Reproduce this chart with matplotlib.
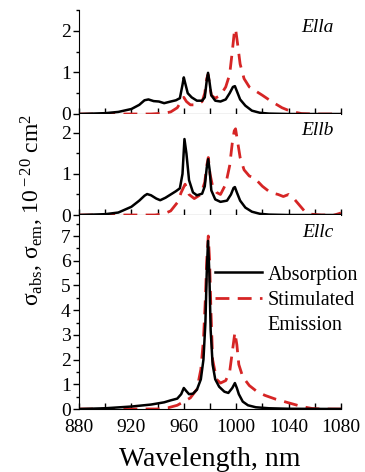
import matplotlib.pyplot as plt
from matplotlib.lines import Line2D
from matplotlib.ticker import MultipleLocator

plt.rcParams['font.family'] = ['Liberation Serif', 'DejaVu Serif']
plt.rcParams['mathtext.fontset'] = 'custom'
plt.rcParams['mathtext.rm'] = 'Liberation Serif'
plt.rcParams['mathtext.it'] = 'Liberation Serif:italic'

# E||a
wl_a_abs = [880, 900, 910, 920, 926, 930, 933, 937, 941, 945, 950, 954, 957, 959, 960, 961, 963, 966,
            970, 974, 976, 977.5, 978.5, 979.5, 981, 984, 988, 992, 995, 997.5, 999, 1000.5, 1003,
            1007, 1012, 1018, 1025, 1040, 1080]
abs_a = [0, 0.02, 0.05, 0.12, 0.22, 0.33, 0.35, 0.31, 0.3, 0.26, 0.3, 0.33, 0.38, 0.7, 0.88, 0.75, 0.5, 0.4,
         0.32, 0.32, 0.4, 0.8, 0.99, 0.8, 0.45, 0.32, 0.3, 0.35, 0.5, 0.65, 0.67, 0.55, 0.35,
         0.2, 0.08, 0.03, 0.01, 0, 0]
wl_a_em = [880, 935, 945, 950, 955, 958, 960, 962, 965, 970, 974, 976, 977.5, 978.5, 979.5, 981, 984,
           988, 992, 995, 997, 998.5, 999.5, 1001, 1003, 1006, 1010, 1015, 1020, 1027, 1035, 1042,
           1050, 1060, 1080]
em_a = [0, 0, 0.02, 0.05, 0.15, 0.3, 0.4, 0.3, 0.22, 0.22, 0.3, 0.5, 0.85, 0.95, 0.75, 0.45, 0.38,
        0.45, 0.65, 0.95, 1.5, 1.95, 2.05, 1.7, 1.2, 0.85, 0.65, 0.55, 0.45, 0.3, 0.15, 0.06,
        0.01, 0, 0]

# E||b
wl_b_abs = [880, 900, 910, 920, 926, 930, 932, 935, 939, 942, 946, 950, 954, 957, 959, 960.5, 962,
            964, 967, 970, 974, 976, 977.5, 978.6, 979.7, 981, 984, 988, 993, 996, 998, 999,
            1000.5, 1003, 1007, 1012, 1018, 1025, 1040, 1080]
abs_b = [0, 0.02, 0.06, 0.2, 0.35, 0.47, 0.51, 0.48, 0.4, 0.36, 0.42, 0.5, 0.58, 0.65, 1.0, 1.85, 1.5,
         0.85, 0.55, 0.48, 0.52, 0.7, 1.15, 1.36, 1.1, 0.6, 0.38, 0.32, 0.35, 0.5, 0.66, 0.68,
         0.55, 0.35, 0.18, 0.08, 0.03, 0.01, 0, 0]
wl_b_em = [880, 938, 945, 950, 955, 958, 961, 964, 968, 973, 976, 977.5, 978.7, 980, 982, 985, 988,
           992, 995, 997, 998.5, 999.5, 1001, 1003, 1006, 1010, 1014, 1020, 1026, 1032, 1036,
           1040, 1044, 1048, 1052, 1057, 1065, 1075, 1080]
em_b = [0, 0, 0.03, 0.1, 0.3, 0.55, 0.75, 0.5, 0.4, 0.5, 0.8, 1.2, 1.4, 1.0, 0.7, 0.55, 0.5,
        0.75, 1.2, 1.75, 2.05, 2.1, 1.8, 1.4, 1.1, 0.95, 0.9, 0.7, 0.55, 0.5, 0.45,
        0.5, 0.4, 0.25, 0.1, 0.02, 0, 0, 0.05]

# E||c
wl_c_abs = [880, 900, 920, 935, 945, 950, 955, 958, 960, 962, 964, 967, 970, 973, 975, 976.5, 977.5,
            978.5, 979.5, 980.5, 982, 984, 987, 991, 994, 997, 999, 1000.5, 1002, 1005, 1009,
            1015, 1025, 1040, 1080]
abs_c = [0, 0.03, 0.1, 0.18, 0.27, 0.35, 0.42, 0.6, 0.85, 0.72, 0.6, 0.62, 0.78, 1.2, 2.0, 3.5, 5.5,
         6.8, 5.5, 3.2, 1.8, 1.2, 0.9, 0.7, 0.65, 0.85, 1.05, 0.85, 0.6, 0.3, 0.15,
         0.07, 0.03, 0.01, 0]
wl_c_em = [880, 940, 948, 955, 960, 965, 970, 973, 975, 976.5, 977.5, 978.7, 979.7, 980.7, 982, 985,
           988, 992, 995, 997, 999, 1000.5, 1002, 1005, 1010, 1016, 1022, 1030, 1040, 1050,
           1058, 1065, 1080]
em_c = [0, 0, 0.05, 0.15, 0.3, 0.45, 0.8, 1.6, 2.8, 4.5, 6.0, 7.0, 6.0, 4.0, 2.0, 1.2,
        1.05, 1.15, 1.5, 2.3, 3.1, 2.6, 1.8, 1.3, 0.95, 0.7, 0.55, 0.4, 0.25, 0.1,
        0.02, 0, 0]

labels = ['Ella', 'Ellb', 'Ellc']
legend_labels = ['Absorption', 'Stimulated', 'Emission']
ylims = [2.5, 2.46, 7.85]
red = '#d62525'

fig = plt.figure(figsize=(3.65, 4.72), dpi=100)
left, right = 79 / 365, 341 / 365
edges = [10, 114, 215, 409]
axes = []
for i in range(3):
    top = 1 - edges[i] / 472
    bot = 1 - edges[i + 1] / 472
    ax = fig.add_axes([left, bot, right - left, top - bot])
    axes.append(ax)

data = [(wl_a_abs, abs_a, wl_a_em, em_a),
        (wl_b_abs, abs_b, wl_b_em, em_b),
        (wl_c_abs, abs_c, wl_c_em, em_c)]
label_y = [0.83, 0.84, 0.91]

for i, ax in enumerate(axes):
    wa, a, we, e = data[i]
    l_abs, = ax.plot(wa, a, color='black', lw=1.8, zorder=3)
    l_em, = ax.plot(we, e, color=red, lw=2.0, ls=(0, (5, 3)), zorder=2)
    ax.set_xlim(880, 1080)
    ax.set_ylim(0, ylims[i])
    ax.spines['top'].set_visible(False)
    ax.spines['right'].set_visible(False)
    ax.xaxis.set_major_locator(MultipleLocator(40))
    ax.xaxis.set_minor_locator(MultipleLocator(20))
    ax.yaxis.set_major_locator(MultipleLocator(1))
    ax.yaxis.set_minor_locator(MultipleLocator(0.5))
    ax.tick_params(axis='x', which='both', direction='in', length=4, width=1, labelsize=14, pad=7)
    ax.tick_params(axis='y', which='major', direction='out', length=4, width=1, labelsize=14, pad=2)
    ax.tick_params(axis='y', which='minor', direction='out', length=2.5, width=1)
    ax.text(0.97, label_y[i], labels[i], transform=ax.transAxes, ha='right', va='center',
            fontsize=14, style='italic')
    if i < 2:
        ax.tick_params(axis='x', labelbottom=False)

axes[2].set_xlabel('Wavelength, nm', fontsize=20, labelpad=8)
# second line of the emission label has no handle, as in the original
blank = Line2D([], [], color='none')
axes[2].legend([l_abs, l_em, blank], legend_labels, loc='upper left',
               bbox_to_anchor=(0.52, 0.74), frameon=False, fontsize=14.5,
               handlelength=2.3, handletextpad=0.3, labelspacing=0.3, borderpad=0,
               borderaxespad=0)

fig.text(0.09, 1 - 210 / 472, 'σ$_{\\rm abs}$, σ$_{\\rm em}$, 10$^{\\rm -20}$ cm$^{\\rm 2}$',
         rotation=90, ha='center', va='center', fontsize=17)

fig.savefig('out.png', dpi=100)
